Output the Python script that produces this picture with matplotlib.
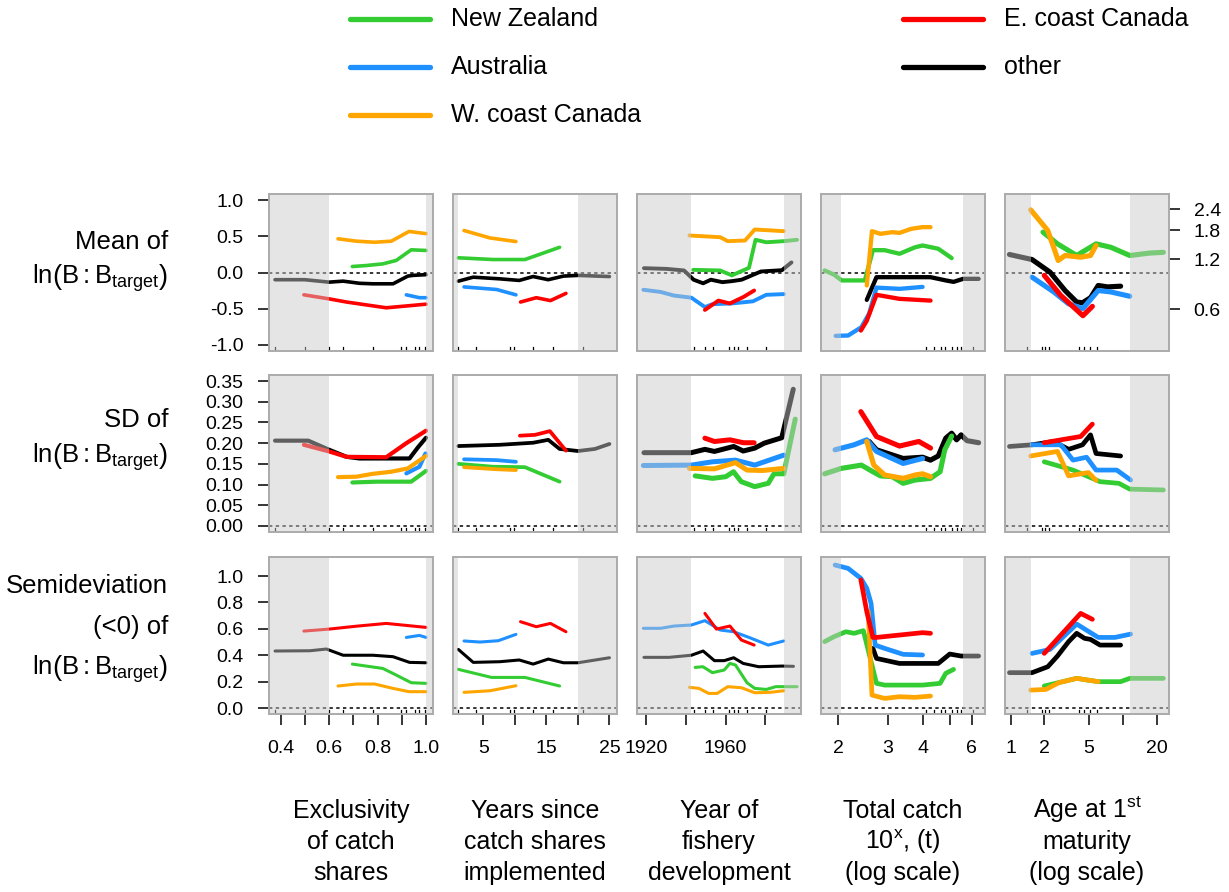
"""
Catch shares and stock status: partial dependence of the mean, SD and
semideviation of ln(B:Btarget) on five predictors, by region.
"""

import matplotlib.pyplot as plt
from matplotlib.lines import Line2D
from matplotlib.ticker import NullLocator
import numpy as np

plt.rcParams['font.family'] = ['Liberation Sans', 'DejaVu Sans']
plt.rcParams['mathtext.fontset'] = 'custom'
plt.rcParams['mathtext.rm'] = 'Liberation Sans'
plt.rcParams['mathtext.it'] = 'Liberation Sans:italic'

# ---- Series (x, y), one dict per panel ----
# keys: nz = New Zealand, au = Australia, wc = W. coast Canada,
#       ec = E. coast Canada, ot = other

# Row 1: mean of ln(B:Btarget)
excl_mean = {
    'ot': ([0.377, 0.5, 0.6, 0.658, 0.726, 0.781, 0.864, 0.925, 0.946, 1.0],
           [-0.10, -0.10, -0.134, -0.12, -0.15, -0.157, -0.157, -0.05, -0.04, -0.03]),
    'nz': ([0.696, 0.754, 0.822, 0.877, 0.939, 1.0],
           [0.083, 0.097, 0.12, 0.167, 0.315, 0.306]),
    'au': ([0.919, 0.973, 1.0], [-0.31, -0.35, -0.35]),
    'wc': ([0.637, 0.713, 0.788, 0.857, 0.93, 1.0],
           [0.468, 0.435, 0.42, 0.435, 0.57, 0.54]),
    'ec': ([0.496, 0.6, 0.672, 0.836, 1.0], [-0.31, -0.366, -0.41, -0.49, -0.44]),
}
years_mean = {
    'ot': ([1.04, 3.4, 7.6, 10.7, 12.9, 15.3, 17.7, 20.0, 25.0],
           [-0.12, -0.065, -0.088, -0.11, -0.056, -0.10, -0.05, -0.04, -0.056]),
    'nz': ([1.04, 6.58, 11.6, 17.1], [0.204, 0.18, 0.18, 0.35]),
    'au': ([1.94, 7.1, 10.17], [-0.2, -0.236, -0.31]),
    'wc': ([1.94, 6.05, 10.17], [0.583, 0.48, 0.43]),
    'ec': ([10.9, 13.4, 15.65, 18.1], [-0.41, -0.35, -0.39, -0.29]),
}
devel_mean = {
    'ot': ([1918.9, 1930.4, 1939.1, 1943.9, 1948.7, 1952.6, 1958.4, 1963.2, 1968.1, 1977.8, 1988.4, 1993.2],
           [0.06, 0.05, 0.028, -0.10, -0.15, -0.10, -0.134, -0.12, -0.10, 0.014, 0.032, 0.14]),
    'nz': ([1943.7, 1957.3, 1963.2, 1971.8, 1975.1, 1980.5, 1989.3, 1996],
           [0.037, 0.028, -0.04, 0.065, 0.454, 0.42, 0.435, 0.454]),
    'au': ([1918.6, 1927.3, 1934, 1942.8, 1949.6, 1953.4, 1963.1, 1973.8, 1980.5, 1989.3],
           [-0.24, -0.27, -0.32, -0.35, -0.48, -0.44, -0.43, -0.4, -0.31, -0.30]),
    'wc': ([1941.8, 1957.3, 1961.1, 1969.8, 1974.7, 1989.3],
           [0.514, 0.49, 0.435, 0.444, 0.597, 0.574]),
    'ec': ([1949.6, 1956.4, 1962.2, 1969, 1974.4], [-0.52, -0.39, -0.43, -0.34, -0.25]),
}
catch_mean = {
    'ot': ([2.53, 2.74, 3.31, 4.27, 4.84, 5.16, 5.58, 6.34],
           [-0.38, -0.065, -0.065, -0.065, -0.11, -0.13, -0.088, -0.088]),
    'nz': ([1.79, 1.93, 2.06, 2.42, 2.49, 2.66, 2.93, 3.31, 3.76, 4.0, 4.55, 5.08],
           [0.028, -0.028, -0.11, -0.11, -0.11, 0.31, 0.31, 0.26, 0.35, 0.375, 0.33, 0.20]),
    'au': ([1.96, 2.17, 2.42, 2.58, 2.74, 3.31, 4.0],
           [-0.88, -0.875, -0.76, -0.57, -0.21, -0.227, -0.2]),
    'wc': ([2.53, 2.64, 2.83, 3.12, 3.31, 3.64, 4.0, 4.27],
           [-0.18, 0.574, 0.537, 0.56, 0.55, 0.606, 0.63, 0.63]),
    'ec': ([2.41, 2.53, 2.74, 3.31, 4.27], [-0.806, -0.67, -0.31, -0.366, -0.39]),
}
age_mean = {
    'ot': ([0.975, 1.55, 2.24, 3.05, 3.87, 4.36, 5.14, 6.02, 7.3, 9.53],
           [0.25, 0.18, 0.005, -0.25, -0.41, -0.42, -0.35, -0.18, -0.20, -0.19]),
    'nz': ([1.94, 2.61, 3.87, 5.76, 7.8, 11.5, 17.3, 22.9],
           [0.56, 0.398, 0.236, 0.398, 0.35, 0.236, 0.27, 0.28]),
    'au': ([1.55, 2.42, 3.28, 4.4, 6.02, 7.8, 11.5],
           [-0.065, -0.27, -0.435, -0.5, -0.25, -0.27, -0.33]),
    'wc': ([1.507, 2.14, 2.65, 3.05, 4.2, 5.14, 5.76],
           [0.87, 0.583, 0.167, 0.236, 0.213, 0.236, 0.375]),
    'ec': ([1.99, 2.8, 4.4, 5.34], [-0.04, -0.32, -0.6, -0.47]),
}

# Row 2: SD of ln(B:Btarget)
excl_sd = {
    'ot': ([0.377, 0.514, 0.6, 0.672, 0.726, 0.81, 0.932, 0.967, 1.0],
           [0.206, 0.206, 0.184, 0.167, 0.163, 0.163, 0.163, 0.19, 0.213]),
    'nz': ([0.696, 0.795, 0.877, 0.939, 1.0], [0.105, 0.107, 0.107, 0.107, 0.133]),
    'au': ([0.919, 0.973, 0.998], [0.127, 0.143, 0.175]),
    'wc': ([0.637, 0.713, 0.781, 0.857, 0.925, 1.0],
           [0.118, 0.119, 0.126, 0.131, 0.139, 0.169]),
    'ec': ([0.496, 0.6, 0.672, 0.836, 0.919, 1.0], [0.196, 0.18, 0.167, 0.166, 0.2, 0.23]),
}
years_sd = {
    'ot': ([1.04, 7.6, 12.9, 15.3, 17.1, 20.0, 22.7, 25.0],
           [0.193, 0.196, 0.201, 0.208, 0.186, 0.181, 0.186, 0.198]),
    'nz': ([1.04, 6.58, 11.6, 17.1], [0.15, 0.143, 0.142, 0.107]),
    'au': ([1.94, 7.1, 10.17], [0.161, 0.159, 0.155]),
    'wc': ([1.94, 7.1, 10.17], [0.142, 0.137, 0.135]),
    'ec': ([10.8, 13.2, 15.55, 18.1], [0.218, 0.22, 0.229, 0.182]),
}
devel_sd = {
    'ot': ([1918.9, 1942.8, 1949.6, 1954.4, 1964.1, 1968.9, 1974.7, 1979.5, 1988.3, 1994.1],
           [0.177, 0.177, 0.185, 0.18, 0.192, 0.181, 0.188, 0.2, 0.213, 0.33]),
    'nz': ([1944.7, 1953.4, 1960.1, 1964, 1967.9, 1974.7, 1981.5, 1984.4, 1989.3, 1995.1],
           [0.121, 0.115, 0.119, 0.131, 0.107, 0.095, 0.103, 0.126, 0.126, 0.258]),
    'au': ([1918.6, 1942.8, 1953.4, 1965, 1974.7, 1989.3],
           [0.146, 0.147, 0.155, 0.159, 0.147, 0.171]),
    'wc': ([1941.8, 1954.4, 1965, 1970.8, 1978.6, 1989.3],
           [0.139, 0.138, 0.153, 0.135, 0.134, 0.139]),
    'ec': ([1949.6, 1954.4, 1962.2, 1969, 1974.4], [0.212, 0.204, 0.208, 0.201, 0.201]),
}
catch_sd = {
    'ot': ([2.58, 2.74, 3.41, 4.0, 4.27, 4.55, 4.84, 5.08, 5.29, 5.49, 5.76, 6.34],
           [0.204, 0.184, 0.163, 0.166, 0.159, 0.169, 0.212, 0.224, 0.208, 0.22, 0.206, 0.201]),
    'nz': ([1.79, 2.05, 2.42, 2.66, 2.83, 3.12, 3.41, 3.76, 4.27, 4.62, 4.8, 5.08],
           [0.126, 0.139, 0.147, 0.131, 0.121, 0.119, 0.103, 0.111, 0.115, 0.131, 0.184, 0.217]),
    'au': ([1.95, 2.28, 2.53, 2.74, 3.41, 4.0], [0.184, 0.196, 0.208, 0.18, 0.151, 0.163]),
    'wc': ([2.53, 2.68, 2.93, 3.41, 3.76, 4.0, 4.27],
           [0.204, 0.147, 0.123, 0.115, 0.123, 0.126, 0.119]),
    'ec': ([2.41, 2.74, 3.31, 3.88, 4.27], [0.276, 0.216, 0.193, 0.204, 0.188]),
}
age_sd = {
    'ot': ([0.975, 1.55, 2.42, 3.28, 4.36, 5.14, 5.76, 9.53],
           [0.192, 0.196, 0.204, 0.185, 0.196, 0.22, 0.175, 0.169]),
    'nz': ([1.99, 3.59, 6.25, 9.2, 11.5, 22.9], [0.155, 0.135, 0.107, 0.103, 0.089, 0.087]),
    'au': ([1.55, 2.8, 3.59, 4.74, 5.76, 8.8, 11.7],
           [0.196, 0.196, 0.159, 0.166, 0.135, 0.135, 0.111]),
    'wc': ([1.507, 2.61, 3.28, 4.93, 5.76], [0.169, 0.18, 0.121, 0.129, 0.11]),
    'ec': ([1.99, 2.8, 4.2, 5.34], [0.201, 0.208, 0.216, 0.246]),
}

# Row 3: semideviation (<0) of ln(B:Btarget)
excl_semi = {
    'ot': ([0.377, 0.521, 0.589, 0.658, 0.781, 0.864, 0.932, 1.0],
           [0.432, 0.434, 0.447, 0.40, 0.40, 0.389, 0.346, 0.343]),
    'nz': ([0.696, 0.822, 0.877, 0.939, 1.0], [0.333, 0.30, 0.25, 0.192, 0.187]),
    'au': ([0.919, 0.973, 1.0], [0.535, 0.55, 0.535]),
    'wc': ([0.637, 0.713, 0.788, 0.864, 0.93, 1.0],
           [0.167, 0.182, 0.182, 0.149, 0.124, 0.124]),
    'ec': ([0.496, 0.6, 0.713, 0.836, 1.0], [0.583, 0.598, 0.62, 0.641, 0.611]),
}
years_semi = {
    'ot': ([1.04, 3.4, 7.6, 10.7, 12.9, 15.3, 17.7, 20.0, 25.0],
           [0.444, 0.346, 0.351, 0.364, 0.333, 0.371, 0.343, 0.343, 0.381]),
    'nz': ([1.04, 6.3, 11.6, 17.1], [0.293, 0.232, 0.232, 0.167]),
    'au': ([1.94, 4.47, 7.37, 10.17], [0.508, 0.50, 0.51, 0.558]),
    'wc': ([1.94, 6.05, 10.17], [0.119, 0.131, 0.169]),
    'ec': ([10.9, 13.4, 15.65, 18.1], [0.654, 0.616, 0.641, 0.578]),
}
devel_semi = {
    'ot': ([1918.9, 1931.5, 1942.8, 1948.7, 1954.4, 1959.3, 1964.1, 1968.9, 1976.7, 1988.4, 1994.2],
           [0.384, 0.384, 0.40, 0.432, 0.359, 0.359, 0.381, 0.338, 0.313, 0.318, 0.316]),
    'nz': ([1944.7, 1948.6, 1953.4, 1959.3, 1962.2, 1965, 1970.8, 1974.7, 1980.5, 1985.3, 1989.3, 1996],
           [0.308, 0.313, 0.268, 0.288, 0.338, 0.326, 0.192, 0.149, 0.141, 0.162, 0.162, 0.162]),
    'au': ([1918.6, 1927.3, 1934, 1942.8, 1949.6, 1957.3, 1964.1, 1971.8, 1981.5, 1989.3],
           [0.604, 0.604, 0.621, 0.629, 0.662, 0.591, 0.578, 0.535, 0.477, 0.508]),
    'wc': ([1941.8, 1946.6, 1951.5, 1955.8, 1961.1, 1968, 1974.7, 1982.5, 1989.3],
           [0.157, 0.149, 0.111, 0.111, 0.162, 0.154, 0.116, 0.119, 0.131]),
    'ec': ([1949.6, 1955.4, 1962.2, 1968, 1974.4], [0.717, 0.598, 0.621, 0.515, 0.477]),
}
catch_semi = {
    'ot': ([2.66, 2.74, 3.31, 4.0, 4.55, 5.0, 5.49, 6.34],
           [0.452, 0.376, 0.338, 0.338, 0.338, 0.409, 0.394, 0.394]),
    'nz': ([1.79, 1.93, 2.13, 2.28, 2.46, 2.74, 2.93, 3.31, 4.0, 4.62, 4.84, 5.16],
           [0.503, 0.54, 0.578, 0.566, 0.586, 0.187, 0.174, 0.174, 0.174, 0.187, 0.263, 0.293]),
    'au': ([1.95, 2.17, 2.41, 2.53, 2.62, 2.71, 2.93, 3.41, 4.0],
           [1.083, 1.058, 0.982, 0.907, 0.793, 0.477, 0.452, 0.407, 0.402]),
    'wc': ([2.56, 2.64, 2.93, 3.31, 3.76, 4.27], [0.73, 0.098, 0.073, 0.086, 0.081, 0.091]),
    'ec': ([2.41, 2.53, 2.66, 2.74, 3.31, 4.0, 4.27],
           [0.97, 0.73, 0.535, 0.535, 0.553, 0.571, 0.566]),
}
age_semi = {
    'ot': ([0.975, 1.55, 2.14, 2.61, 3.28, 3.87, 4.55, 5.14, 6.25, 9.53],
           [0.268, 0.268, 0.313, 0.394, 0.503, 0.566, 0.528, 0.52, 0.477, 0.477]),
    'nz': ([1.99, 3.87, 6.02, 9.53, 11.5, 22.9], [0.167, 0.225, 0.20, 0.20, 0.225, 0.225]),
    'au': ([1.55, 2.24, 3.87, 6.02, 8.47, 11.7], [0.414, 0.444, 0.636, 0.535, 0.535, 0.56]),
    'wc': ([1.507, 2.06, 2.68, 3.87, 6.02], [0.136, 0.141, 0.192, 0.225, 0.20]),
    'ec': ([1.99, 4.2, 5.34], [0.414, 0.717, 0.672]),
}

# Rug positions (observed predictor values) per column
rug_excl = [0.377, 0.5, 0.6, 0.659, 0.781, 0.898, 0.919, 0.953, 0.973, 0.998]
rug_years = [1.04, 3.84, 9.2, 9.9, 12.9, 16, 20.8]
rug_devel = [1944.3, 1949.6, 1953.8, 1961.5, 1964.5, 1966.3, 1970.7, 1980.2]
rug_catch = [4.1, 4.38, 4.67, 4.82, 5.08, 5.31, 5.48, 6.05]
rug_age = [1.39, 1.91, 2.03, 2.2, 4.04, 4.54, 5.11, 5.85]

# Shaded (outside the central data range) limits per column
shade_excl = (0.6, 1.0)
shade_years = (1.0, 20.0)
shade_devel = (1942.8, 1989.3)
shade_catch = (2.05, 5.58)
shade_age = (1.507, 11.5)

# Region names and colours
region_keys = ['nz', 'au', 'wc', 'ec', 'ot']
region_names = ['New Zealand', 'Australia', 'W. coast Canada', 'E. coast Canada', 'other']
region_colors = ['#33CC33', '#1E90FF', '#FFA500', '#FF0000', '#000000']
draw_order = ['ot', 'nz', 'au', 'wc', 'ec']

# Axis tick values and labels
xticks_excl = [0.4, 0.5, 0.6, 0.7, 0.8, 0.9, 1.0]
xlabs_excl = ['0.4', '', '0.6', '', '0.8', '', '1.0']
xticks_years = [5, 10, 15, 20, 25]
xlabs_years = ['5', '', '15', '', '25']
xticks_devel = [1920, 1940, 1960, 1980]
xlabs_devel = ['1920', '', '1960', '']
xticks_catch = [2, 3, 4, 5, 6]
xlabs_catch = ['2', '3', '4', '', '6']
xticks_age = [1, 2, 5, 10, 20]
xlabs_age = ['1', '2', '5', '', '20']

right_ticks = [2.4, 1.8, 1.2, 0.6]

# ---- Layout (pixels) ----
W, H = 1229, 892
fig = plt.figure(figsize=(W / 100, H / 100), dpi=100)


def fx(px):
    return px / W


def fy(py):
    return 1 - py / H


col_left = [269, 453, 637, 821, 1005]
col_w = 164
row_top = [194, 375, 557]
row_h = 157

panels = [
    [excl_mean, years_mean, devel_mean, catch_mean, age_mean],
    [excl_sd, years_sd, devel_sd, catch_sd, age_sd],
    [excl_semi, years_semi, devel_semi, catch_semi, age_semi],
]
cols = [
    dict(xlim=(0.352, 1.029), log=False, shade=shade_excl, rug=rug_excl,
         ticks=xticks_excl, labs=xlabs_excl),
    dict(xlim=(0.19, 26.2), log=False, shade=shade_years, rug=rug_years,
         ticks=xticks_years, labs=xlabs_years),
    dict(xlim=(1915.4, 1998.0), log=False, shade=shade_devel, rug=rug_devel,
         ticks=xticks_devel, labs=xlabs_devel),
    dict(xlim=(1.737, 6.68), log=True, shade=shade_catch, rug=rug_catch,
         ticks=xticks_catch, labs=xlabs_catch),
    dict(xlim=(0.89, 25.7), log=True, shade=shade_age, rug=rug_age,
         ticks=xticks_age, labs=xlabs_age),
]
rows = [
    dict(ylim=(-1.09, 1.09), ticks=[-1.0, -0.5, 0.0, 0.5, 1.0],
         labs=['-1.0', '-0.5', '0.0', '0.5', '1.0'], lw=[2.6, 2.6, 2.8, 3.1, 3.7]),
    dict(ylim=(-0.0145, 0.3645), ticks=list(np.arange(0, 0.36, 0.05)),
         labs=['%.2f' % v for v in np.arange(0, 0.36, 0.05)], lw=[3.0, 2.7, 3.6, 3.7, 3.4]),
    dict(ylim=(-0.045, 1.144), ticks=[0.0, 0.2, 0.4, 0.6, 0.8, 1.0],
         labs=['0.0', '0.2', '0.4', '0.6', '0.8', '1.0'], lw=[2.2, 2.2, 2.2, 3.4, 3.4]),
]
colors = dict(zip(region_keys, region_colors))

for r, row in enumerate(rows):
    for c, col in enumerate(cols):
        ax = fig.add_axes([fx(col_left[c]), fy(row_top[r] + row_h), fx(col_w), row_h / H])
        if col['log']:
            ax.set_xscale('log')
        ax.set_xlim(*col['xlim'])
        ax.set_ylim(*row['ylim'])

        ax.axhline(0, color='k', lw=1.1, ls=(0, (2.2, 2.2)), zorder=1.5)
        for xr in col['rug']:
            ax.plot([xr, xr], [0, 0.028], transform=ax.get_xaxis_transform(),
                    color='k', lw=0.9, zorder=1.6)

        data = panels[r][c]
        for key in draw_order:
            if key in data:
                xs, ys = data[key]
                ax.plot(xs, ys, color=colors[key], lw=row['lw'][c],
                        solid_capstyle='round', solid_joinstyle='round', zorder=2)

        # translucent grey veil over the outer ranges
        lo, hi = col['shade']
        ax.axvspan(col['xlim'][0], lo, color='#C9C9C9', alpha=0.48, lw=0, zorder=3)
        ax.axvspan(hi, col['xlim'][1], color='#C9C9C9', alpha=0.48, lw=0, zorder=3)

        for s in ax.spines.values():
            s.set_color('#ABABAB')
            s.set_linewidth(1.4)
            s.set_zorder(4)

        ax.xaxis.set_minor_locator(NullLocator())
        ax.yaxis.set_minor_locator(NullLocator())
        if r == 2:
            ax.set_xticks(col['ticks'], col['labs'])
            ax.tick_params(axis='x', direction='out', length=8.2, width=1.1,
                           color='k', labelsize=14, pad=10.5)
        else:
            ax.set_xticks([])
        if c == 0:
            ax.set_yticks(row['ticks'], row['labs'])
            ax.tick_params(axis='y', direction='out', length=8.0, width=1.1,
                           color='k', labelsize=14, pad=10.5)
        elif c == 4 and r == 0:
            ax.yaxis.tick_right()
            ax.set_yticks(np.log(right_ticks), ['%.1f' % v for v in right_ticks])
            ax.tick_params(axis='y', direction='out', length=8.0, width=1.1,
                           color='k', labelsize=14, pad=9.7)
        else:
            ax.set_yticks([])

# ---- Row labels ----
lnlab = r'$\mathrm{ln}\left(\mathrm{B:B}_{\mathrm{target}}\right)$'
row_texts = [
    [('Mean of', 249), (lnlab, 284)],
    [('SD of', 427), (lnlab, 463)],
    [('Semideviation', 593), ('(<0) of', 634), (lnlab, 675)],
]
for lines in row_texts:
    for txt, yb in lines:
        fig.text(fx(168), fy(yb), txt, ha='right', va='baseline', fontsize=18.5)

# ---- Column labels ----
col_texts = [
    ['Exclusivity', 'of catch', 'shares'],
    ['Years since', 'catch shares', 'implemented'],
    ['Year of', 'fishery', 'development'],
    ['Total catch', r'10$^{\mathrm{x}}$, (t)', '(log scale)'],
    [r'Age at 1$^{\mathrm{st}}$', 'maturity', '(log scale)'],
]
col_base = [818, 849, 880]
for c, lines in enumerate(col_texts):
    xc = col_left[c] + col_w / 2
    for txt, yb in zip(lines, col_base):
        fig.text(fx(xc), fy(yb), txt, ha='center', va='baseline', fontsize=18)

# ---- Legend ----
leg_pos = [(350, 19), (350, 67), (350, 115), (903, 19), (903, 67)]
for (lx, ly), name, colr in zip(leg_pos, region_names, region_colors):
    fig.add_artist(Line2D([fx(lx), fx(lx + 80)], [fy(ly), fy(ly)], color=colr,
                          lw=3.8, solid_capstyle='round', transform=fig.transFigure))
    fig.text(fx(lx + 101), fy(ly), name, ha='left', va='center', fontsize=18)

fig.savefig('out.png', dpi=100)
